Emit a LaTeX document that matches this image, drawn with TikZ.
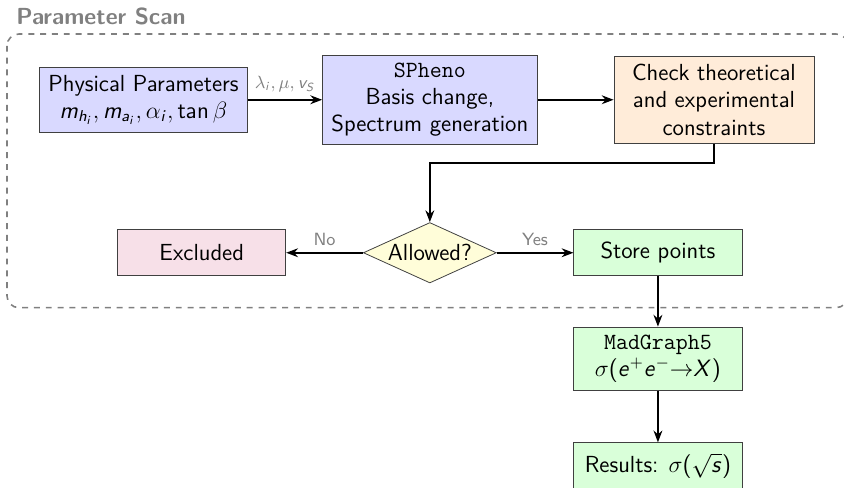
\documentclass[tikz,border=0pt]{standalone}
\usepackage{amsmath}
\usetikzlibrary{arrows.meta, shapes.geometric, positioning, calc}

% sans serif italic latin letters in math, greek stays as it is
\DeclareSymbolFont{sfletters}{OT1}{cmss}{m}{sl}
\DeclareSymbolFont{operators}{OT1}{cmss}{m}{n}
\DeclareMathSymbol{a}{\mathalpha}{sfletters}{`a}
\DeclareMathSymbol{e}{\mathalpha}{sfletters}{`e}
\DeclareMathSymbol{h}{\mathalpha}{sfletters}{`h}
\DeclareMathSymbol{i}{\mathalpha}{sfletters}{`i}
\DeclareMathSymbol{m}{\mathalpha}{sfletters}{`m}
\DeclareMathSymbol{s}{\mathalpha}{sfletters}{`s}
\DeclareMathSymbol{v}{\mathalpha}{sfletters}{`v}
\DeclareMathSymbol{S}{\mathalpha}{sfletters}{`S}
\DeclareMathSymbol{X}{\mathalpha}{sfletters}{`X}

\tikzset{
	block/.style={
		draw=black!75,
		rectangle,
		align=center,
		minimum width=3cm,
		minimum height=0.82cm,
		inner xsep=4.5pt,
		inner ysep=4pt
	},
	decision/.style={
		draw=black!75,
		diamond,
		aspect=2.2,
		inner sep=1pt,
		fill=yellow!15,
		minimum width=2.35cm,
		minimum height=1.05cm
	},
	flow/.style={
		-{Stealth[length=6pt]},
		thick
	},
	edge label/.style={
		text=gray,
		font=\small\sffamily
	},
	scan frame/.style={
		draw=gray,
		thick,
		dashed,
		rounded corners=6pt
	}
}

\begin{document}
\begin{tikzpicture}[font=\fontsize{11.8}{13.8}\selectfont\sffamily]
		
		% --- Canvas ---
		\useasboundingbox (0,0) rectangle (15.06,-8.69);
		
		% --- Scan region ---
		\draw[scan frame] (0.125,-0.607) rectangle (15.13,-5.49);
		\node[anchor=base west, inner sep=0pt, text=gray, font=\fontsize{11.8}{13.8}\selectfont\bfseries\sffamily] (title) at (0.285,-0.446) {Parameter Scan};
		
		% --- Blocks ---
		\node[block, fill=blue!15] (phys) at (2.56,-1.78) {Physical Parameters\\ $m_{h_i}, m_{a_i}, \alpha_i, \tan\beta$};
		\node[block, fill=blue!15] (spheno) at (7.67,-1.78) {\texttt{SPheno}\\ Basis change,\\ Spectrum generation};
		\node[block, fill=orange!15, minimum width=3.57cm] (check) at (12.74,-1.78) {Check theoretical\\ and experimental\\ constraints};
		\node[decision] (allowed) at (7.67,-4.51) {Allowed?};
		\node[block, fill=purple!12] (excl) at (3.60,-4.51) {Excluded};
		\node[block, fill=green!15] (store) at (11.74,-4.51) {Store points};
		\node[block, fill=green!15] (madgraph) at (11.74,-6.40) {\texttt{MadGraph5}\\ $\sigma(e^+e^-{\to}X)$};
		\node[block, fill=green!15] (results) at (11.74,-8.31) {Results: $\sigma(\sqrt{s})$};
		
		% --- Connectors ---
		\draw[flow] (phys) -- node[above, edge label] {$\lambda_i, \mu, v_S$} (spheno);
		\draw[flow] (spheno) -- (check);
		\draw[flow] (check.south) -- ++(0,-0.35) -| (allowed.north);
		\draw[flow] (allowed) -- node[above, edge label] {No} (excl);
		\draw[flow] (allowed) -- node[above, edge label] {Yes} (store);
		\draw[flow] (store) -- (madgraph);
		\draw[flow] (madgraph) -- (results);
		
	\end{tikzpicture}
\end{document}
